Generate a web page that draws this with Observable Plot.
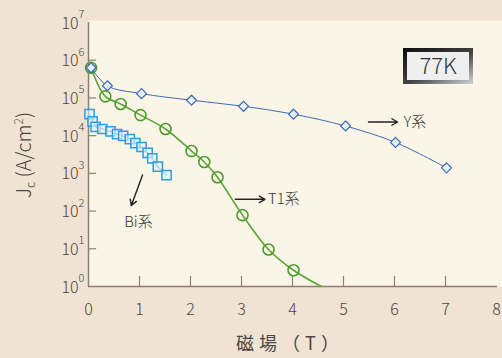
<!DOCTYPE html>
<html>
<head>
<meta charset="utf-8">
<script src="https://cdn.jsdelivr.net/npm/d3@7"></script>
<script src="https://cdn.jsdelivr.net/npm/@observablehq/plot@0.6"></script>
<style>
  html, body { margin: 0; padding: 0; background: #f1e3d3; }
  #chart { width: 502px; height: 358px; }
  svg { display: block; }
</style>
</head>
<body>
<div id="chart"></div>
<script>
// ---- data ----
const xTicks = [0, 1, 2, 3, 4, 5, 6, 7, 8];
const yExps = [0, 1, 2, 3, 4, 5, 6, 7];

const yField = [0.05, 0.37, 1.04, 2.02, 3.04, 4.02, 5.04, 6.02, 7.02];
const yJc = [6.3e5, 2.1e5, 1.3e5, 8.7e4, 6.0e4, 3.7e4, 1.8e4, 6.6e3, 1.4e3];

const t1Field = [0.05, 0.33, 0.63, 1.02, 1.51, 2.02, 2.27, 2.53, 3.02, 3.53, 4.02];
const t1Jc = [6.3e5, 1.1e5, 6.9e4, 3.5e4, 1.5e4, 3.9e3, 2.0e3, 7.9e2, 78, 9.6, 2.7];
const t1LineEndField = 4.57;
const t1LineEndJc = 1;

const biField = [0.02, 0.08, 0.14, 0.27, 0.43, 0.56, 0.68, 0.81, 0.92, 1.04, 1.16, 1.25, 1.36, 1.53];
const biJc = [3.7e4, 2.4e4, 1.7e4, 1.5e4, 1.3e4, 1.1e4, 9.8e3, 8.1e3, 6.3e3, 5.0e3, 3.5e3, 2.5e3, 1.5e3, 9.0e2];

const labelText = ["Y系", "T1系", "Bi系"];
const labelX = [6.18, 3.52, 0.98];
const labelY = [2.3e4, 205, 50];
const labelAnchor = ["start", "start", "middle"];

const arrowX1 = [5.49, 2.88, 1.06];
const arrowY1 = [2.3e4, 205, 900];
const arrowX2 = [6.06, 3.46, 0.84];
const arrowY2 = [2.3e4, 205, 140];

// ---- tables built from arrays ----
const ySeries = yField.map((x, i) => ({x, y: yJc[i]}));
const t1Series = t1Field.map((x, i) => ({x, y: t1Jc[i]}));
const t1Line = [...t1Series, {x: t1LineEndField, y: t1LineEndJc}];
const biSeries = biField.map((x, i) => ({x, y: biJc[i]}));
const labels = labelText.map((t, i) => ({t, x: labelX[i], y: labelY[i], a: labelAnchor[i]}));
const arrows = arrowX1.map((x1, i) => ({x1, y1: arrowY1[i], x2: arrowX2[i], y2: arrowY2[i]}));

const font = "'Noto Sans CJK JP', 'Noto Sans', sans-serif";
const axisColor = "#8a8172";
const textColor = "#4a4540";
const blue = "#3e6cb4", green = "#4f9a2c", cyan = "#2d9de0";

const chart = Plot.plot({
  width: 502,
  height: 358,
  marginLeft: 88,
  marginRight: 6,
  marginTop: 22,
  marginBottom: 72,
  style: {background: "#f1e3d3", fontFamily: font, color: textColor},
  x: {domain: [0, 8], axis: null},
  y: {type: "log", domain: [1, 1e7], axis: null},
  marks: [
    Plot.frame({fill: "#faf5e6", stroke: null, insetRight: -6, insetTop: -2}),
    // axis lines
    Plot.ruleX([0], {stroke: axisColor, strokeWidth: 1.5}),
    Plot.ruleY([1], {stroke: axisColor, strokeWidth: 1.5, insetRight: -1}),
    // ticks
    Plot.ruleY(yExps.slice(1, 7).map(e => 10 ** e), {x1: 0, x2: 0.16, stroke: axisColor, strokeWidth: 1.2}),
    Plot.ruleX(xTicks.slice(1, 8), {y1: 1, y2: 1.85, stroke: axisColor, strokeWidth: 1.2}),
    // tick labels
    Plot.text(yExps, {x: 0, y: d => 10 ** d, text: () => "10", textAnchor: "end", dx: -10, dy: 1, fontSize: 16, fill: textColor, fontWeight: 300}),
    Plot.text(yExps, {x: 0, y: d => 10 ** d, text: d => String(d), textAnchor: "start", dx: -10, dy: -8, fontSize: 11, fill: textColor, fontWeight: 300}),
    Plot.text(xTicks, {x: d => d, y: 1, dy: 23, text: d => String(d), fontSize: 16, fill: textColor, fontWeight: 300}),
    // Bi series
    Plot.line(biSeries, {x: "x", y: "y", stroke: cyan, strokeWidth: 1.2}),
    Plot.dot(biSeries, {x: "x", y: "y", symbol: "square", r: 5.2, stroke: cyan, strokeWidth: 1.5, fill: "#e6f3f8", fillOpacity: 0.6}),
    // T1 series
    Plot.line(t1Line, {x: "x", y: "y", stroke: "#5aa537", strokeWidth: 1.6, curve: "catmull-rom"}),
    Plot.dot(t1Series, {x: "x", y: "y", r: 5.5, stroke: green, strokeWidth: 1.6, fill: "none"}),
    // Y series
    Plot.line(ySeries, {x: "x", y: "y", stroke: blue, strokeWidth: 1, curve: "catmull-rom"}),
    Plot.dot(ySeries, {x: "x", y: "y", symbol: "diamond2", r: 4.5, stroke: blue, strokeWidth: 1.2, fill: "#eaf0f8"}),
    // annotations
    Plot.arrow(arrows, {x1: "x1", y1: "y1", x2: "x2", y2: "y2", stroke: "#222", strokeWidth: 1.4, headLength: 7}),
    Plot.text(labels.filter(d => d.a === "start"), {x: "x", y: "y", text: "t", textAnchor: "start", fontSize: 15, fill: "#333", fontWeight: 300}),
    Plot.text(labels.filter(d => d.a === "middle"), {x: "x", y: "y", text: "t", textAnchor: "middle", fontSize: 15, fill: "#333", fontWeight: 300})
  ]
});

document.getElementById("chart").appendChild(chart);

const svg = d3.select(chart);

// Y axis title with sub/superscripts
const yt = svg.append("text")
  .attr("transform", "translate(31,155) rotate(-90)")
  .attr("text-anchor", "middle")
  .attr("font-family", font)
  .attr("font-size", 20)
  .attr("font-weight", 300)
  .attr("fill", textColor);
yt.append("tspan").text("J");
yt.append("tspan").attr("font-size", 12).attr("dy", 4).text("c");
yt.append("tspan").attr("dy", -4).text(" (A/cm");
yt.append("tspan").attr("font-size", 12).attr("dy", -8).text("2");
yt.append("tspan").attr("dy", 8).text(")");

// X axis title
svg.append("text")
  .attr("x", 290).attr("y", 350)
  .attr("text-anchor", "middle")
  .attr("font-family", font)
  .attr("font-size", 18)
  .attr("letter-spacing", 5)
  .attr("fill", textColor)
  .text("磁場（T）");

// 77K box
const defs = svg.append("defs");
const g = defs.append("linearGradient").attr("id", "boxgrad")
  .attr("x1", "0").attr("y1", "0").attr("x2", "1").attr("y2", "1");
g.append("stop").attr("offset", "0").attr("stop-color", "#111");
g.append("stop").attr("offset", "0.55").attr("stop-color", "#444");
g.append("stop").attr("offset", "1").attr("stop-color", "#c8c8c8");
svg.append("rect")
  .attr("x", 405).attr("y", 50).attr("width", 66).attr("height", 32)
  .attr("fill", "#efefef")
  .attr("stroke", "url(#boxgrad)")
  .attr("stroke-width", 4);
svg.append("text")
  .attr("x", 438).attr("y", 66)
  .attr("dy", "0.35em")
  .attr("text-anchor", "middle")
  .attr("font-family", font)
  .attr("font-size", 22)
  .attr("font-weight", 300)
  .attr("fill", "#333")
  .text("77K");
</script>
</body>
</html>
